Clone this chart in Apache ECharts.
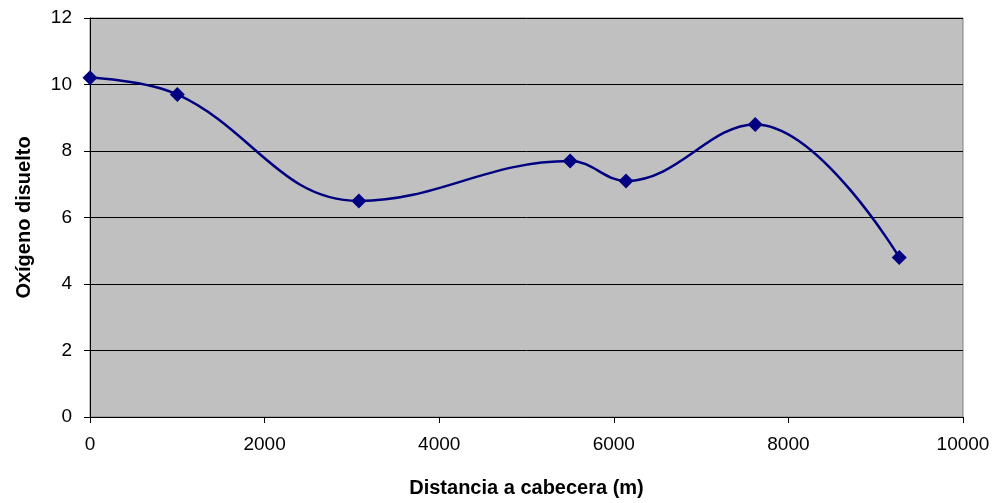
<!DOCTYPE html>
<html>
<head>
<meta charset="utf-8">
<script src="https://cdn.jsdelivr.net/npm/echarts@6/dist/echarts.min.js"></script>
<style>
  html, body { margin: 0; padding: 0; background: #fff; }
  #chart { width: 996px; height: 503px; }
</style>
</head>
<body>
<div id="chart"></div>
<script>
// distance from source (m) and dissolved oxygen
var distancia = [0, 1000, 3080, 5500, 6140, 7620, 9270];
var oxigeno = [10.2, 9.7, 6.5, 7.7, 7.1, 8.8, 4.8];

var puntos = distancia.map(function (d, i) { return [d, oxigeno[i]]; });

var chart = echarts.init(document.getElementById('chart'));

var option = {
    backgroundColor: '#ffffff',
    animation: false,
    grid: {
        left: 90, right: 33, top: 18, bottom: 86,
        show: true,
        backgroundColor: '#C0C0C0',
        borderColor: '#808080',
        borderWidth: 1
    },
    xAxis: {
        type: 'value',
        min: 0, max: 10000, interval: 2000,
        name: 'Distancia a cabecera (m)',
        nameLocation: 'middle',
        nameGap: 61,
        nameTextStyle: { fontFamily: 'Liberation Sans', fontSize: 20, fontWeight: 'bold', color: '#000' },
        axisLine: { lineStyle: { color: '#000', width: 1 } },
        axisTick: { show: true, inside: false, length: 6, lineStyle: { color: '#000' } },
        axisLabel: {
            fontFamily: 'Liberation Sans', fontSize: 19, color: '#000', margin: 18,
            formatter: function (v) { return String(v); }
        },
        splitLine: { show: false }
    },
    yAxis: {
        type: 'value',
        min: 0, max: 12, interval: 2,
        name: 'Oxígeno disuelto',
        nameLocation: 'middle',
        nameGap: 56,
        nameTextStyle: { fontFamily: 'Liberation Sans', fontSize: 20, fontWeight: 'bold', color: '#000' },
        axisLine: { show: true, lineStyle: { color: '#000', width: 1 } },
        axisTick: { show: true, inside: false, length: 6, lineStyle: { color: '#000' } },
        axisLabel: { fontFamily: 'Liberation Sans', fontSize: 19, color: '#000', margin: 18 },
        splitLine: { show: true, lineStyle: { color: '#000', width: 1 } }
    },
    series: [{
        type: 'line',
        data: puntos,
        smooth: 0.4,
        symbol: 'diamond',
        symbolSize: 15,
        lineStyle: { color: '#000080', width: 2.5 },
        itemStyle: { color: '#000080', borderWidth: 0 }
    }]
};

chart.setOption(option);
</script>
</body>
</html>
